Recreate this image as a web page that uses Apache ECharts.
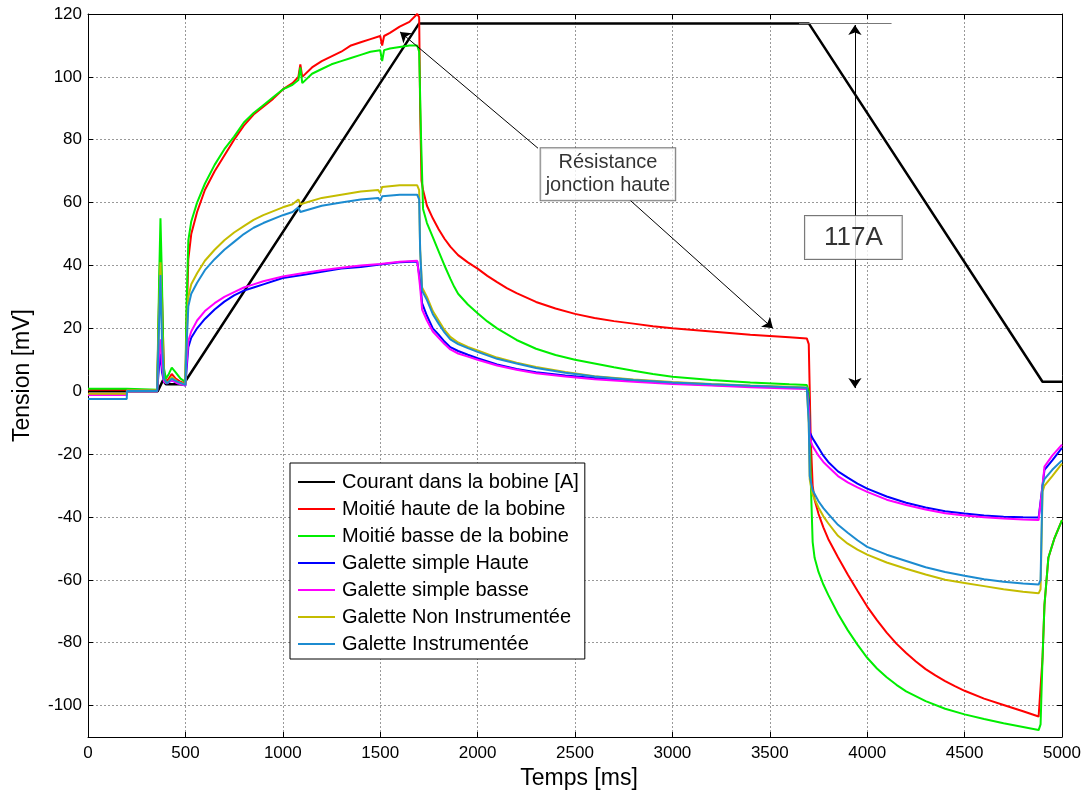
<!DOCTYPE html>
<html><head><meta charset="utf-8">
<script src="https://cdn.jsdelivr.net/npm/echarts@6/dist/echarts.min.js"></script>
<style>html,body{margin:0;padding:0;background:#fff}#c{width:1088px;height:803px}</style>
</head><body><div id="c"></div><script>
const FONT = 'Liberation Sans, Arial, sans-serif';
const yTicks = [-100,-80,-60,-40,-20,0,20,40,60,80,100,120];
const seriesNames = ['Courant dans la bobine [A]','Moitié haute de la bobine','Moitié basse de la bobine','Galette simple Haute','Galette simple basse','Galette Non Instrumentée','Galette Instrumentée'];

const courant = [[0,0],[358,0],[385,3.5],[400,2.2],[490,2.2],[500,2.5],[1700,117],[3700,117],[4900,3],[5000,3]];

const moitieHaute = [[0,0.5],[199,0.5],[200,0.3],[355,0.3],[365,30],[372,47],[380,30],[390,6],[400,3],[415,4],[430,5.5],[450,4],[475,3],[500,2.5],[505,20],[515,42],[530,50],[560,57],[600,64],[650,70],[700,75],[750,80],[800,84.5],[850,88],[900,90.5],[950,93],[1000,96],[1050,98],[1080,100],[1090,104],[1100,100],[1150,103],[1200,105],[1250,106.5],[1300,108],[1350,110],[1400,111],[1450,112],[1500,113],[1510,110],[1520,113],[1550,114],[1600,116],[1650,117.5],[1690,120],[1700,119],[1705,90],[1712,67],[1720,64],[1740,59],[1770,55],[1800,51.5],[1830,48.5],[1860,46],[1900,43.3],[1950,41],[2000,39],[2050,36.7],[2100,34.7],[2150,32.8],[2200,31.2],[2300,28.4],[2400,26.3],[2500,24.6],[2600,23.3],[2700,22.3],[2800,21.5],[2900,20.7],[3000,20],[3200,19],[3400,18],[3600,17.2],[3690,16.8],[3700,15],[3710,-15],[3720,-30],[3730,-34.5],[3750,-39],[3775,-43.3],[3800,-47],[3850,-52.8],[3900,-58.3],[3950,-63.5],[4000,-68.5],[4050,-72.8],[4100,-76.8],[4150,-80.3],[4200,-83.3],[4250,-86],[4300,-88.4],[4350,-90.4],[4400,-92.2],[4450,-93.8],[4500,-95.3],[4600,-97.8],[4700,-99.8],[4800,-101.8],[4880,-103.5],[4890,-103],[4900,-85],[4910,-68],[4930,-53],[4960,-47],[5000,-41]];

const moitieBasse = [[0,0.8],[199,0.8],[200,0.5],[355,0.5],[365,35],[372,55],[378,40],[388,8],[400,4],[415,5.5],[430,7.5],[450,6],[475,4],[500,3],[505,25],[515,48],[530,54],[560,60],[600,66],[650,72],[700,77],[750,81],[800,85.5],[850,88.5],[900,91],[950,93.5],[1000,96],[1050,97.5],[1080,99],[1090,103],[1100,98],[1150,101],[1200,102.5],[1250,104],[1300,105],[1350,106],[1400,107],[1450,108],[1500,108.5],[1510,105],[1520,108.5],[1550,109],[1600,109.5],[1650,110],[1690,110],[1700,108],[1710,80],[1720,58],[1740,53.5],[1770,49],[1800,44.5],[1830,40],[1860,35.8],[1880,33.2],[1900,31],[1950,27.6],[2000,24.8],[2050,22.2],[2100,20],[2200,16.3],[2300,13.5],[2400,11.5],[2500,10],[2600,8.8],[2700,7.6],[2800,6.5],[2900,5.5],[3000,4.6],[3200,3.6],[3400,2.8],[3600,2.2],[3690,2],[3700,0],[3710,-28],[3720,-48],[3730,-53],[3750,-57.5],[3775,-61.5],[3800,-64.8],[3850,-70.8],[3900,-76],[3950,-80.6],[4000,-84.8],[4050,-88.2],[4100,-91],[4150,-93.4],[4200,-95.5],[4300,-98.6],[4400,-101],[4500,-102.8],[4600,-104.3],[4700,-105.6],[4800,-106.8],[4880,-107.8],[4890,-106],[4900,-85],[4910,-68],[4930,-53],[4960,-47],[5000,-41]];

const galetteHaute = [[0,-1.2],[199,-1.2],[200,0.2],[355,0.2],[365,8],[372,12],[380,6],[390,3],[405,2.5],[430,3.5],[460,2.5],[500,1.8],[505,6],[515,14],[530,17],[560,20],[600,23],[650,26],[700,28.5],[750,30.5],[800,32],[850,33],[900,34],[1000,36],[1100,37],[1200,38],[1300,39],[1400,39.5],[1500,40.3],[1600,41],[1690,41.3],[1700,41],[1705,35],[1715,28],[1740,24],[1770,20],[1800,18],[1830,15.8],[1860,14],[1900,12.8],[1950,11.6],[2000,10.5],[2100,8.5],[2200,7.1],[2300,6],[2450,5],[2600,4.2],[2800,3.3],[3000,2.6],[3200,2],[3400,1.6],[3600,1.2],[3690,1],[3700,-3],[3705,-13],[3720,-15],[3750,-18],[3775,-20.5],[3800,-22.5],[3850,-25.5],[3900,-27.5],[3950,-29.4],[4000,-31],[4100,-33.5],[4200,-35.5],[4300,-37],[4400,-38.2],[4500,-38.9],[4600,-39.5],[4700,-39.9],[4800,-40.1],[4880,-40.2],[4890,-40],[4900,-30],[4910,-25],[4950,-22],[5000,-18]];

const galetteBasse = [[0,-1.2],[199,-1.2],[200,0],[355,0],[365,12],[372,16.5],[380,8],[390,3],[405,2.5],[430,3.5],[460,2.5],[500,1.8],[505,8],[515,16],[530,19],[560,22.5],[600,25.5],[650,28],[700,30],[750,31.5],[800,33],[850,34],[900,35],[1000,36.5],[1100,37.5],[1200,38.5],[1300,39.3],[1400,40],[1500,40.5],[1600,41.2],[1690,41.5],[1700,41],[1705,33],[1715,26],[1740,22.5],[1770,19],[1800,17],[1830,15],[1860,13.3],[1900,12],[1950,11],[2000,10],[2100,8.2],[2200,6.8],[2300,5.7],[2450,4.7],[2600,3.8],[2800,3],[3000,2.3],[3200,1.8],[3400,1.3],[3600,0.9],[3690,0.7],[3700,-5],[3705,-15],[3720,-17.5],[3750,-20.5],[3775,-22.5],[3800,-24],[3850,-27],[3900,-29],[3950,-30.6],[4000,-32],[4100,-34.5],[4200,-36.2],[4300,-37.6],[4400,-38.8],[4500,-39.5],[4600,-40.1],[4700,-40.5],[4800,-40.8],[4880,-41],[4890,-40.5],[4900,-30],[4910,-24],[4950,-20.5],[5000,-17]];

const galetteNonInstr = [[0,-0.8],[199,-0.8],[200,0.3],[355,0.3],[365,25],[372,41],[380,20],[390,4],[405,2.5],[430,4.5],[460,3],[500,2.2],[505,15],[515,30],[530,34],[560,37.5],[600,41.5],[650,45],[700,48],[750,50.5],[800,52.5],[850,54.5],[900,56],[1000,58.5],[1050,59.5],[1080,61],[1090,59.5],[1100,60],[1200,61.5],[1300,62.5],[1400,63.5],[1490,64],[1500,63],[1510,65],[1600,65.5],[1690,65.5],[1700,64],[1705,45],[1715,33],[1740,30],[1770,25.5],[1800,22.5],[1830,19.5],[1860,17.3],[1900,15.5],[1950,14.1],[2000,13],[2100,10.7],[2200,9.1],[2300,7.7],[2450,6.1],[2600,4.8],[2800,3.7],[3000,2.9],[3200,2.3],[3400,1.8],[3600,1.4],[3690,1.2],[3700,-10],[3705,-28],[3720,-33],[3750,-37],[3775,-39.8],[3800,-42],[3850,-46],[3900,-48.5],[3950,-50.4],[4000,-52],[4100,-54.5],[4200,-56.5],[4300,-58.3],[4400,-60],[4500,-61],[4600,-62],[4700,-63],[4800,-63.8],[4880,-64.3],[4890,-63],[4900,-32],[4910,-30],[4950,-27],[5000,-23]];

const galetteInstr = [[0,-2.5],[199,-2.5],[200,0.1],[355,0.1],[365,22],[372,37],[380,15],[390,4],[405,2.5],[430,4],[460,3],[500,2],[505,13],[515,27],[530,31],[560,34.5],[600,38.5],[650,42],[700,45],[750,47.5],[800,50],[850,52],[900,53.5],[1000,56],[1050,57],[1080,58.5],[1090,57],[1100,57.5],[1200,59],[1300,60],[1400,61],[1490,61.5],[1500,60.5],[1510,62],[1600,62.5],[1690,62.5],[1700,61],[1705,45],[1715,32],[1740,29],[1770,24.5],[1800,21.5],[1830,18.7],[1860,16.5],[1900,15],[1950,13.7],[2000,12.5],[2100,10.3],[2200,8.8],[2300,7.4],[2450,5.9],[2600,4.7],[2800,3.6],[3000,2.8],[3200,2.2],[3400,1.7],[3600,1.3],[3690,1.1],[3700,-10],[3705,-27],[3720,-31.5],[3750,-35],[3775,-37.2],[3800,-39],[3850,-42.5],[3900,-45],[3950,-47.4],[4000,-49.5],[4100,-52],[4200,-54],[4300,-56],[4400,-57.5],[4500,-58.7],[4600,-59.8],[4700,-60.6],[4800,-61.2],[4880,-61.5],[4890,-60],[4900,-30],[4910,-28],[4950,-25],[5000,-22]];

const colors = ['#000000','#ff0000','#00ee00','#0000ff','#ff00ff','#c4bc00','#1c8bd0'];
const dataSets = [courant, moitieHaute, moitieBasse, galetteHaute, galetteBasse, galetteNonInstr, galetteInstr];

const chart = echarts.init(document.getElementById('c'));
const lineSeries = dataSets.map((d, i) => ({
  name: seriesNames[i], type: 'line', data: d, symbol: 'none', showSymbol: false,
  lineStyle: {color: colors[i], width: i === 0 ? 2.5 : 2}, itemStyle: {color: colors[i]},
  animation: false, z: 2
}));

const axisText = {color: '#000', fontSize: 17, fontFamily: FONT};
chart.setOption({
  animation: false,
  backgroundColor: '#fff',
  grid: {left: 88, right: 26, top: 14, bottom: 66, show: false},
  legend: {
    data: seriesNames.map(n => ({name: n, icon: 'rect'})), orient: 'vertical', left: 290, top: 463,
    backgroundColor: '#fff', borderColor: '#000', borderWidth: 1, borderRadius: 0,
    padding: [9, 6, 5, 8], itemGap: 7, itemWidth: 37, itemHeight: 2,
    textStyle: {color: '#000', fontSize: 20, fontFamily: FONT, padding: [0,0,0,2]}
  },
  xAxis: [{
    type: 'value', min: 0, max: 5000, interval: 500,
    name: 'Temps [ms]', nameLocation: 'middle', nameGap: 30,
    nameTextStyle: {color: '#000', fontSize: 23, fontFamily: FONT, padding: [0, 0, 0, 8]},
    axisLine: {onZero: false, lineStyle: {color: '#000', width: 1}},
    axisTick: {inside: true, length: 5, lineStyle: {color: '#000'}},
    axisLabel: Object.assign({margin: 8, formatter: v => String(v)}, axisText),
    splitLine: {show: true, lineStyle: {color: '#999', type: [2, 2], width: 1}}
  }, {
    type: 'value', min: 0, max: 5000, interval: 500, position: 'top',
    axisLine: {show: true, onZero: false, lineStyle: {color: '#000'}},
    axisTick: {inside: true, length: 5, lineStyle: {color: '#000'}},
    axisLabel: {show: false}, splitLine: {show: false}
  }],
  yAxis: [{
    type: 'value', min: -110, max: 120,
    name: 'Tension [mV]', nameLocation: 'middle', nameGap: 54,
    nameTextStyle: {color: '#000', fontSize: 23, fontFamily: FONT},
    axisLine: {show: true, onZero: false, lineStyle: {color: '#000'}},
    axisTick: {inside: true, length: 5, customValues: yTicks, lineStyle: {color: '#000'}},
    axisLabel: Object.assign({margin: 6, customValues: yTicks, formatter: v => String(v)}, axisText),
    splitLine: {show: true, customValues: yTicks, lineStyle: {color: '#999', type: [2, 2], width: 1}}
  }, {
    type: 'value', min: -110, max: 120, position: 'right',
    axisLine: {show: true, onZero: false, lineStyle: {color: '#000'}},
    axisTick: {inside: true, length: 5, customValues: yTicks, lineStyle: {color: '#000'}},
    axisLabel: {show: false, customValues: yTicks}, splitLine: {show: false}
  }],
  series: lineSeries.concat([
    {type: 'lines', coordinateSystem: 'cartesian2d', silent: true, z: 3,
     symbol: ['none', 'none'],
     lineStyle: {color: '#777', width: 1, opacity: 1},
     data: [{coords: [[3650, 117], [4125, 117]]}]},
    {type: 'lines', coordinateSystem: 'cartesian2d', silent: true, z: 4,
     symbol: ['arrow', 'arrow'], symbolSize: 10,
     lineStyle: {color: '#000', width: 1, opacity: 1},
     data: [{coords: [[3937, 116.5], [3937, 1]]}]},
    {type: 'lines', coordinateSystem: 'cartesian2d', silent: true, z: 4,
     symbol: ['none', 'arrow'], symbolSize: 10,
     lineStyle: {color: '#000', width: 1, opacity: 1},
     data: [{coords: [[2310, 77.3], [1602, 114.3]]}, {coords: [[2782, 60.8], [3516, 20]]}]},
    {type: 'scatter', silent: true, z: 10, symbolSize: 1,
     itemStyle: {color: 'rgba(0,0,0,0)'},
     label: {show: true, position: 'inside', backgroundColor: '#fff', borderColor: '#555',
             borderWidth: 1, color: '#000', fontFamily: FONT},
     data: [
       {value: [3929, 48.9], label: {formatter: '117A', fontSize: 26, color: '#000', padding: [9, 19, 8, 19]}},
       {value: [2669, 69], label: {formatter: 'Résistance\njonction haute', fontSize: 20, lineHeight: 23, color: '#000', padding: [3, 5, 3, 5], align: 'center'}}
     ]}
  ])
});
</script></body></html>
